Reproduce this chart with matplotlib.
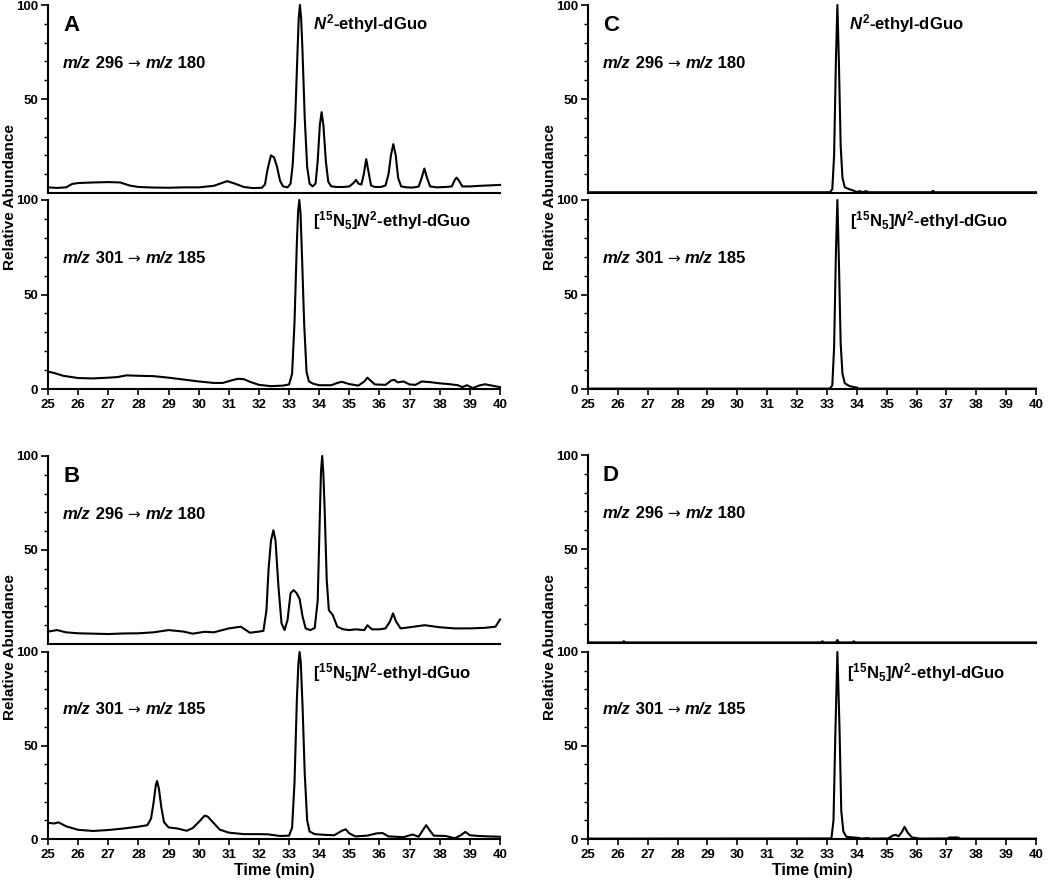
"""
LC-MS/MS chromatograms of N2-ethyl-dGuo (panels A-D), each panel with the
analyte channel on top and the [15N5] internal standard channel below.
"""

import matplotlib
matplotlib.use("Agg")
import matplotlib.pyplot as plt
from matplotlib.ticker import FixedLocator

plt.rcParams["font.family"] = ["Liberation Sans", "DejaVu Sans"]
plt.rcParams["font.weight"] = "bold"
plt.rcParams["mathtext.fontset"] = "custom"
plt.rcParams["mathtext.rm"] = "Liberation Sans:bold"
plt.rcParams["mathtext.it"] = "Liberation Sans:italic:bold"
plt.rcParams["mathtext.bf"] = "Liberation Sans:bold"

# ============================================================
# TRACES (time in min, relative abundance in %)
# ============================================================

a_top_t = [25.0, 25.3, 25.6, 25.8, 26.0, 26.5, 27.0, 27.4, 27.7, 28.0, 28.5, 29.0, 29.5,
           30.0, 30.5, 30.8, 30.95, 31.2, 31.5, 31.8, 32.1, 32.2, 32.28, 32.33, 32.4, 32.5,
           32.6, 32.7, 32.8, 32.95, 33.05, 33.12, 33.2, 33.28, 33.32, 33.36, 33.40, 33.44,
           33.52, 33.6, 33.68, 33.78, 33.88, 33.95, 34.02, 34.08, 34.14, 34.22, 34.3, 34.4,
           34.6, 34.8, 35.0, 35.15, 35.22, 35.3, 35.4, 35.48, 35.56, 35.64, 35.72, 35.85,
           36.05, 36.2, 36.3, 36.38, 36.46, 36.54, 36.62, 36.72, 36.9, 37.1, 37.3, 37.4,
           37.49, 37.58, 37.68, 37.9, 38.2, 38.4, 38.5, 38.56, 38.64, 38.75, 39.0, 39.3,
           39.6, 40.0]
a_top_y = [3.0, 2.7, 3.0, 4.8, 5.3, 5.6, 5.8, 5.6, 4.0, 3.2, 2.9, 2.8, 3.0,
           3.0, 3.8, 5.5, 6.3, 5.0, 3.2, 2.6, 2.8, 4.5, 12.0, 15.5, 20.0, 19.0,
           14.0, 6.5, 3.5, 3.0, 5.0, 15.0, 38.0, 75.0, 93.0, 100.0, 93.0, 78.0,
           40.0, 14.0, 5.0, 3.5, 5.0, 17.0, 36.0, 43.0, 36.0, 17.0, 6.0, 3.5,
           3.2, 3.2, 3.5, 5.5, 7.0, 5.0, 4.5, 10.0, 18.0, 11.0, 4.0, 3.2,
           3.2, 4.0, 10.0, 20.0, 26.0, 20.0, 8.0, 3.5, 3.0, 2.9, 3.4, 8.0,
           13.0, 8.0, 3.5, 3.0, 3.2, 3.5, 7.0, 8.2, 6.5, 3.5, 3.5, 3.8,
           4.0, 4.3]

a_bot_t = [25.0, 25.2, 25.5, 26.0, 26.5, 27.0, 27.3, 27.6, 28.0, 28.5, 29.0, 29.5, 30.0,
           30.5, 30.8, 31.1, 31.3, 31.5, 31.7, 32.0, 32.4, 32.8, 33.0, 33.1, 33.18, 33.26,
           33.30, 33.34, 33.38, 33.43, 33.5, 33.58, 33.66, 33.8, 34.0, 34.4, 34.6, 34.75,
           35.0, 35.3, 35.5, 35.6, 35.7, 35.85, 36.2, 36.4, 36.5, 36.6, 36.8, 37.0, 37.2,
           37.4, 37.7, 38.0, 38.3, 38.6, 38.75, 38.9, 39.1, 39.3, 39.5, 39.8, 40.0]
a_bot_y = [9.2, 8.5, 7.0, 5.8, 5.6, 6.0, 6.3, 7.2, 7.0, 6.8, 6.0, 5.0, 4.0,
           3.2, 3.2, 4.6, 5.4, 5.2, 3.8, 2.2, 1.5, 1.8, 2.4, 8.0, 35.0, 78.0,
           94.0, 100.0, 93.0, 70.0, 35.0, 9.0, 4.0, 2.8, 2.0, 2.0, 3.2, 3.8,
           2.6, 1.8, 4.0, 6.0, 4.5, 2.4, 2.2, 4.6, 4.8, 3.5, 4.0, 2.4, 2.2,
           4.0, 3.6, 3.0, 2.6, 2.0, 1.0, 2.0, 0.5, 1.8, 2.5, 1.6, 1.0]

b_top_t = [25.0, 25.3, 25.6, 26.0, 26.5, 27.0, 27.5, 28.0, 28.5, 29.0, 29.5, 29.8, 30.2,
           30.5, 31.0, 31.4, 31.7, 32.0, 32.15, 32.25, 32.32, 32.4, 32.48, 32.55, 32.65,
           32.75, 32.85, 32.95, 33.05, 33.15, 33.25, 33.35, 33.45, 33.55, 33.7, 33.85,
           33.95, 34.02, 34.06, 34.1, 34.14, 34.18, 34.25, 34.32, 34.45, 34.6, 34.8, 35.0,
           35.2, 35.5, 35.6, 35.75, 36.0, 36.2, 36.35, 36.45, 36.55, 36.7, 37.0, 37.5,
           38.0, 38.5, 39.0, 39.5, 39.85, 40.0]
b_top_y = [6.6, 7.4, 6.2, 5.7, 5.5, 5.3, 5.6, 5.7, 6.2, 7.4, 6.6, 5.5, 6.5,
           6.2, 8.3, 9.2, 6.0, 6.6, 7.0, 18.0, 40.0, 55.0, 60.5, 55.0, 30.0,
           11.0, 7.4, 12.8, 27.0, 28.7, 27.0, 24.0, 14.5, 8.3, 7.4, 8.5,
           23.0, 67.7, 92.0, 100.0, 90.0, 72.0, 34.0, 18.0, 15.4, 9.2, 7.8, 7.4,
           7.8, 7.4, 10.0, 7.8, 7.8, 8.3, 12.0, 16.3, 12.0, 8.3, 8.9, 10.0,
           8.9, 8.3, 8.3, 8.6, 9.2, 13.0]

b_bot_t = [25.0, 25.2, 25.35, 25.6, 26.0, 26.5, 27.0, 27.5, 28.0, 28.3, 28.42, 28.5,
           28.58, 28.62, 28.68, 28.76, 28.85, 29.0, 29.3, 29.6, 29.8, 30.0, 30.2, 30.3,
           30.5, 30.7, 31.0, 31.5, 32.0, 32.3, 32.7, 33.0, 33.1, 33.18, 33.26, 33.31,
           33.35, 33.39, 33.45, 33.52, 33.6, 33.68, 33.85, 34.2, 34.5, 34.75, 34.88, 35.0,
           35.2, 35.6, 35.9, 36.1, 36.3, 36.8, 37.1, 37.3, 37.45, 37.55, 37.65, 37.8,
           38.2, 38.5, 38.7, 38.85, 39.0, 39.3, 39.6, 40.0]
b_bot_y = [8.7, 8.3, 8.9, 6.8, 4.9, 4.3, 4.8, 5.6, 6.6, 7.4, 11.0, 19.0,
           29.0, 31.0, 27.0, 17.0, 9.0, 6.2, 5.6, 4.4, 5.8, 9.0, 12.5, 12.0,
           8.5, 5.0, 3.4, 2.6, 2.6, 2.5, 1.6, 1.8, 6.0, 30.0, 75.0, 94.0,
           100.0, 94.0, 70.0, 35.0, 10.0, 4.0, 2.6, 2.2, 2.0, 4.4, 5.2, 3.0,
           1.4, 1.8, 3.0, 3.2, 1.4, 1.0, 2.4, 1.2, 5.0, 7.4, 5.0, 1.8,
           1.6, 0.4, 2.0, 3.8, 2.0, 1.6, 1.4, 1.2]

c_top_t = [25.0, 33.1, 33.18, 33.24, 33.3, 33.35, 33.4, 33.46, 33.52, 33.6, 33.75, 33.9,
           34.0, 34.1, 34.2, 34.3, 34.4, 36.5, 36.55, 36.6, 40.0]
c_top_y = [0.4, 0.4, 2.0, 20.0, 70.0, 100.0, 70.0, 25.0, 8.0, 3.0, 2.0, 1.2,
           0.5, 1.0, 0.4, 1.0, 0.4, 0.4, 1.2, 0.4, 0.4]

c_bot_t = [25.0, 33.1, 33.18, 33.24, 33.3, 33.35, 33.4, 33.46, 33.52, 33.6, 33.75, 33.9,
           34.0, 34.05, 40.0]
c_bot_y = [0.2, 0.2, 2.0, 22.0, 72.0, 100.0, 68.0, 24.0, 8.0, 3.0, 1.6, 1.0,
           0.8, 0.2, 0.2]

d_top_t = [25.0, 26.15, 26.2, 26.25, 32.8, 32.85, 32.9, 33.3, 33.35, 33.4, 33.85, 33.9,
           33.95, 40.0]
d_top_y = [0.3, 0.3, 0.9, 0.3, 0.3, 0.9, 0.3, 0.3, 1.6, 0.3, 0.3, 0.9,
           0.3, 0.3]

d_bot_t = [25.0, 33.15, 33.22, 33.28, 33.35, 33.42, 33.48, 33.55, 33.65, 34.1, 34.15,
           34.35, 34.45, 35.05, 35.2, 35.3, 35.4, 35.5, 35.6, 35.7, 35.85, 36.0, 36.1,
           37.05, 37.1, 37.4, 37.45, 40.0]
d_bot_y = [0.2, 0.3, 10.0, 55.0, 100.0, 60.0, 15.0, 4.0, 1.2, 0.5, 0.2,
           0.5, 0.2, 0.3, 1.8, 2.2, 1.5, 3.5, 6.5, 3.5, 0.8, 0.5, 0.2,
           0.3, 0.8, 0.8, 0.2, 0.2]

x_ticks = list(range(25, 41))

# channel labels as (text, style) pieces; "arrow" pieces use DejaVu for a longer arrow
top_channel = [("m/z", "italic"), (" 296 ", "normal"), ("→ ", "arrow"),
               ("m/z", "italic"), (" 180", "normal")]
bot_channel = [("m/z", "italic"), (" 301 ", "normal"), ("→ ", "arrow"),
               ("m/z", "italic"), (" 185", "normal")]
top_name = r"$N^{\mathrm{2}}$-ethyl-dGuo"
bot_name = r"[$^{\mathrm{15}}$N$_{\mathrm{5}}$]$N^{\mathrm{2}}$-ethyl-dGuo"

# ============================================================
# LAYOUT (pixel boxes of the 1050 x 883 reference)
# ============================================================

W, H = 1050, 883
fig = plt.figure(figsize=(W / 100, H / 100), dpi=100)


def px_axes(x0, x1, y_top, y_bot):
    return fig.add_axes([x0 / W, 1 - y_bot / H, (x1 - x0) / W, (y_bot - y_top) / H])


def style(ax, bottom):
    ax.set_xlim(25, 40)
    ax.set_ylim(0, 100)
    for s in ["top", "right"]:
        ax.spines[s].set_visible(False)
    for s in ["left", "bottom"]:
        ax.spines[s].set_linewidth(1.5)
    ax.yaxis.set_minor_locator(FixedLocator([10, 20, 30, 40, 60, 70, 80, 90]))
    ax.tick_params(axis="y", which="major", length=5, width=1.2, labelsize=9.5, pad=2)
    ax.tick_params(axis="y", which="minor", length=3, width=1.0)
    if bottom:
        ax.set_yticks([0, 50, 100])
        ax.set_xticks(x_ticks)
        ax.tick_params(axis="x", length=4, width=1.2, labelsize=9.5, pad=3)
    else:
        ax.set_yticks([50, 100])
        ax.set_xticks([])
    for lab in ax.get_xticklabels() + ax.get_yticklabels():
        lab.set_fontweight("bold")


def channel_label(ax, x, y, pieces):
    # first piece anchored in data coords, the rest chained to its right
    prev = None
    for txt, kind in pieces:
        kw = dict(fontsize=12, fontweight="bold")
        if kind == "italic":
            kw["fontstyle"] = "italic"
        elif kind == "arrow":
            kw.update(family=["DejaVu Sans"], fontweight="normal", fontsize=11)
        if prev is None:
            prev = ax.text(x, y, txt, va="center", **kw)
        else:
            prev = ax.annotate(txt, xy=(1, 0), xycoords=prev, ha="left", va="bottom", **kw)


# letter, x range, top box, bottom box, traces, name label x, show time label
panels = [
    ("A", (48, 500), (5, 193), (200, 389), (a_top_t, a_top_y), (a_bot_t, a_bot_y), 33.8, False),
    ("B", (48, 500), (456, 644), (652, 839), (b_top_t, b_top_y), (b_bot_t, b_bot_y), None, True),
    ("C", (588, 1036), (5, 193), (200, 389), (c_top_t, c_top_y), (c_bot_t, c_bot_y), 33.75, False),
    ("D", (588, 1036), (455, 643), (652, 839), (d_top_t, d_top_y), (d_bot_t, d_bot_y), None, True),
]

for letter, (x0, x1), top_box, bot_box, top_tr, bot_tr, name_x, time_lab in panels:
    ax_t = px_axes(x0, x1, *top_box)
    ax_b = px_axes(x0, x1, *bot_box)
    style(ax_t, False)
    style(ax_b, True)

    ax_t.plot(*top_tr, color="black", lw=1.5, clip_on=False)
    ax_b.plot(*bot_tr, color="black", lw=1.5, clip_on=False)

    ax_t.text(25.5, 89, letter, fontsize=16, fontweight="bold", va="center")
    channel_label(ax_t, 25.5, 69, top_channel)
    channel_label(ax_b, 25.5, 69, bot_channel)

    if name_x is not None:
        ax_t.text(name_x, 90, top_name, fontsize=12, fontweight="bold", va="center")
    ax_b.text(33.68 if letter == "D" else 33.78, 89, bot_name, fontsize=12,
              fontweight="bold", va="center")

    if time_lab:
        ax_b.set_xlabel("Time (min)", fontsize=11.5, fontweight="bold", labelpad=2)

    fig.text((x0 - 38) / W, 1 - ((top_box[0] + bot_box[1]) / 2) / H, "Relative Abundance",
             rotation=90, ha="center", va="center", fontsize=11, fontweight="bold")

fig.savefig("out.png", dpi=100)
